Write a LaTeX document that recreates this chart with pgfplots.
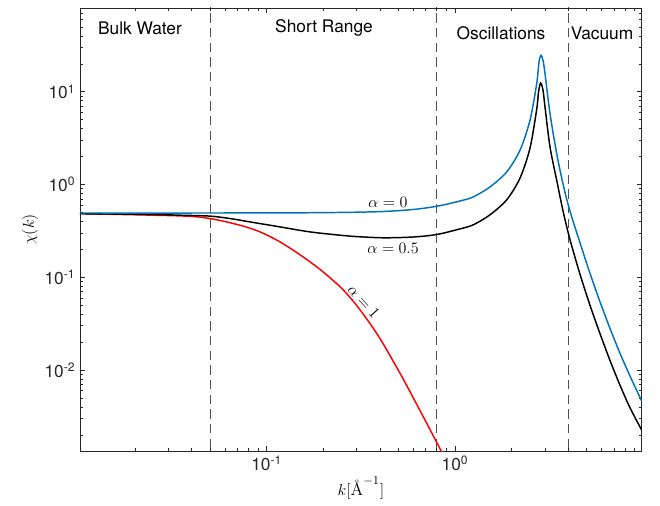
\documentclass[border=0pt]{standalone}
\usepackage{pgfplots}
\pgfplotsset{compat=1.18}
\usepackage{amsmath}
\usepackage[no-math]{fontspec}
\newfontfamily\hv{TeX Gyre Heros}
\definecolor{mblue}{RGB}{0,114,189}
\definecolor{axgray}{RGB}{38,38,38}
\definecolor{dgray}{RGB}{80,80,80}
\begin{document}
\begin{tikzpicture}
\begin{axis}[
  scale only axis, width=421.3pt, height=332.25pt,
  xmode=log, ymode=log,
  xmin=0.0102, xmax=9.81, ymin=0.00134, ymax=80,
  xtick={0.1,1}, xticklabels={10\textsuperscript{-1},10\textsuperscript{0}},
  ytick={0.01,0.1,1,10},
  yticklabels={10\textsuperscript{-2},10\textsuperscript{-1},10\textsuperscript{0},10\textsuperscript{1}},
  minor xtick={0.02,0.03,0.04,0.05,0.06,0.07,0.08,0.09,0.2,0.3,0.4,0.5,0.6,0.7,0.8,0.9,2,3,4,5,6,7,8,9},
  minor ytick={0.002,0.003,0.004,0.005,0.006,0.007,0.008,0.009,0.02,0.03,0.04,0.05,0.06,0.07,0.08,0.09,0.2,0.3,0.4,0.5,0.6,0.7,0.8,0.9,2,3,4,5,6,7,8,9,20,30,40,50,60,70,80},
  tick align=inside,
  major tick length=3.8pt, minor tick length=2.3pt,
  tick label style={font=\hv\fontsize{13}{15}\selectfont, text=axgray},
  axis line style={axgray, line width=0.5pt},
  every tick/.style={axgray, line width=0.5pt},
  xlabel={$k[\text{\AA}^{-1}]$}, ylabel={$\chi(k)$},
  label style={font=\fontsize{13}{15}\selectfont},
  xlabel style={yshift=2pt},
  ylabel style={yshift=-2pt},
]
% dashed region boundaries
\addplot[dgray, line width=0.7pt, dash pattern=on 7pt off 4pt] coordinates {(0.05,0.001) (0.05,100)};
\addplot[dgray, line width=0.7pt, dash pattern=on 7pt off 4pt] coordinates {(0.8,0.001) (0.8,100)};
\addplot[dgray, line width=0.7pt, dash pattern=on 7pt off 4pt] coordinates {(4,0.001) (4,100)};
% alpha = 1
\addplot[red, line width=1.1pt, smooth] coordinates {
 (0.0102,0.485) (0.0346,0.459) (0.05,0.430) (0.0722,0.364) (0.0921,0.309)
 (0.1177,0.2407) (0.150,0.1754) (0.192,0.1216) (0.245,0.0793) (0.288,0.0553)
 (0.339,0.0358) (0.400,0.0218) (0.491,0.01063) (0.554,0.00682) (0.679,0.00313)
 (0.85,0.00131) (0.90,0.00105)
};
% alpha = 0.5
\addplot[black, line width=1.1pt, smooth] coordinates {
 (0.0102,0.4845) (0.024,0.4762) (0.0346,0.4669) (0.05,0.4566) (0.0638,0.430) (0.0815,0.3954)
 (0.1177,0.3492) (0.170,0.3084) (0.245,0.2842) (0.288,0.2759) (0.4163,0.2665) (0.600,0.2718)
 (0.80,0.2892) (1.063,0.3323) (1.251,0.3679) (1.534,0.4716) (1.882,0.684) (2.214,1.172)
 (2.502,2.467) (2.716,6.476) (2.776,9.88) (2.85,12.44) (2.934,10.38) (3.006,6.86)
 (3.196,2.542) (3.468,1.112) (3.760,0.503) (4.081,0.2542) (4.61,0.108) (5.21,0.0500)
 (5.89,0.02467) (6.66,0.01263) (7.52,0.00687) (8.50,0.00392) (9.81,0.00225)
};
% alpha = 0
\addplot[mblue, line width=1.1pt, smooth] coordinates {
 (0.0102,0.493) (0.0442,0.493) (0.1502,0.4955) (0.277,0.5017) (0.4146,0.5117) (0.598,0.5378)
 (0.8024,0.5835) (1.063,0.6643) (1.251,0.7353) (1.534,0.942) (1.882,1.367) (2.214,2.342)
 (2.502,4.93) (2.716,12.26) (2.793,20.79) (2.862,24.74) (2.934,21.85) (3.006,15.70)
 (3.196,5.82) (3.468,2.158) (3.760,0.983) (4.081,0.5158) (4.61,0.236) (5.21,0.1104)
 (5.89,0.0543) (6.66,0.0280) (7.52,0.01517) (8.50,0.00861) (9.81,0.00462)
};
% annotations
\node[font=\hv\fontsize{13}{15}\selectfont, text=black] at (rel axis cs:0.1068,0.955) {Bulk Water};
\node[font=\hv\fontsize{13}{15}\selectfont, text=black] at (rel axis cs:0.4344,0.955) {Short Range};
\node[font=\hv\fontsize{13}{15}\selectfont, text=black] at (rel axis cs:0.7495,0.9436) {Oscillations};
\node[font=\hv\fontsize{13}{15}\selectfont, text=black] at (rel axis cs:0.9293,0.9436) {Vacuum};
\node[font=\fontsize{12.5}{15}\selectfont] at (axis cs:0.4406,0.640) {$\alpha=0$};
\node[font=\fontsize{12.5}{15}\selectfont] at (axis cs:0.469,0.204) {$\alpha=0.5$};
\node[font=\fontsize{12.5}{15}\selectfont, rotate=-48] at (axis cs:0.328,0.0545) {$\alpha=1$};
\end{axis}
\path ([xshift=-60pt,yshift=-41.25pt]current axis.south west) rectangle ([xshift=13.7pt,yshift=6pt]current axis.north east);
\end{tikzpicture}
\end{document}
